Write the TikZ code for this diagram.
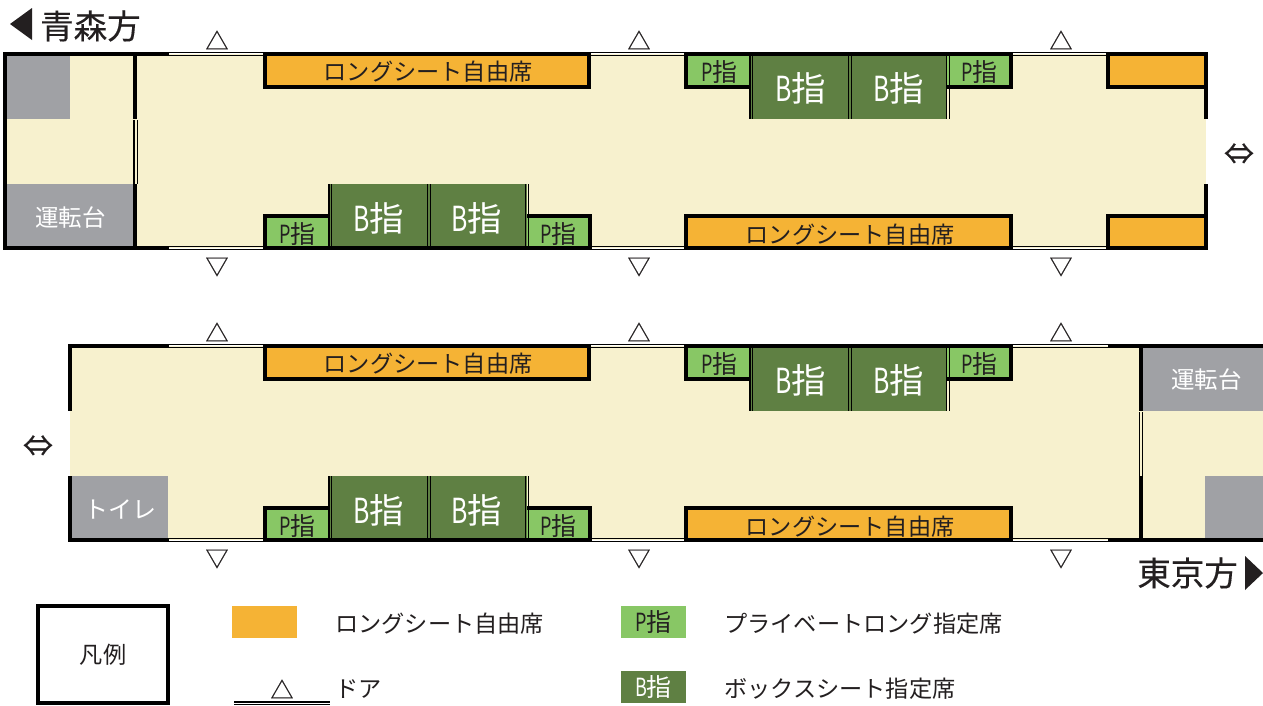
\documentclass[tikz,border=0pt]{standalone}
\usepackage{fontspec}
\setmainfont{Noto Sans CJK JP}
\newfontfamily\narrowjp[FakeStretch=0.72]{Noto Sans CJK JP}
\newfontfamily\heavyjp[FakeBold=0.6]{Noto Sans CJK JP}
\newfontfamily\semijp[FakeBold=0.35]{Noto Sans CJK JP}
\definecolor{cream}{HTML}{F7F1CE}
\definecolor{orangeseat}{HTML}{F5B335}
\definecolor{pgreen}{HTML}{88C765}
\definecolor{bgreen}{HTML}{5F8043}
\definecolor{cabgrey}{HTML}{A0A1A5}
\definecolor{ink}{HTML}{231F20}
\newcommand{\jpP}{{\narrowjp P}指}
\newcommand{\jpB}{{\narrowjp B}指}
\tikzset{
  x=1pt,y=-1pt,
  wall/.style={line width=4pt,black},
  thin double/.style={line width=1.1pt,black},
  seattext/.style={inner sep=0pt,text=ink,font=\fontsize{23.2}{25}\selectfont},
  ptext/.style={inner sep=0pt,text=ink,font=\fontsize{25}{27}\selectfont},
  btext/.style={inner sep=0pt,text=white,font=\fontsize{34.5}{36}\selectfont},
  cabtext/.style={inner sep=0pt,text=white,font=\fontsize{23.5}{25}\selectfont},
  mark text/.style={inner sep=0pt,text=ink,font=\heavyjp\fontsize{23}{25}\selectfont},
  swap text/.style={inner sep=0pt,text=ink,font=\heavyjp\fontsize{30}{32}\selectfont},
  dirtext/.style={inner sep=0pt,text=ink,font=\semijp\fontsize{33.5}{35}\selectfont},
  legendtext/.style={inner sep=0pt,anchor=west,text=ink,font=\fontsize{23.2}{25}\selectfont},
}
% door: two thin lines at height #1, from #2 to #3
\newcommand{\doorpair}[3]{%
  \draw[thin double] (#2,#1-1.7) -- (#3,#1-1.7);
  \draw[thin double] (#2,#1+1.6) -- (#3,#1+1.6);
}
% everything the two cars share, drawn for the first car's heights
\newcommand{\carbody}[1]{%
  % top seats
  \fill[orangeseat] (265,54) rectangle (589,87);
  \fill[pgreen] (686,54) rectangle (751,87);
  \fill[bgreen] (751,54) rectangle (947,119);
  \fill[pgreen] (947,54) rectangle (1011,87);
  % bottom seats
  \fill[pgreen] (265,216) rectangle (330,248);
  \fill[bgreen] (330,184) rectangle (527,248);
  \fill[pgreen] (527,216) rectangle (590,248);
  \fill[orangeseat] (686,216) rectangle (1011,248);
  % seat outlines
  \draw[wall] (265,54) -- (265,87) -- (589,87) -- (589,54);
  \draw[wall] (686,54) -- (686,87) -- (751,87);
  \draw[wall] (947,87) -- (1011,87) -- (1011,54);
  \draw[wall] (265,248) -- (265,216) -- (329,216);
  \draw[wall] (527,216) -- (590,216) -- (590,248);
  \draw[wall] (686,248) -- (686,216) -- (1011,216) -- (1011,248);
  % seat partitions
  \foreach \px in {750,848.5,946.5}{%
    \draw[line width=1.6pt] (\px,56) -- (\px,119);
    \draw[line width=1pt] (\px+2.6,56) -- (\px+2.6,119);}
  \foreach \px in {329,427.5,525.5}{%
    \draw[line width=1.6pt] (\px,184) -- (\px,247);
    \draw[line width=1pt] (\px+2.6,184) -- (\px+2.6,247);}
  % long walls
  \draw[wall] (263,54) -- (591,54) (684,54) -- (1013,54);
  \draw[wall] (263,248) -- (592,248) (684,248) -- (1013,248);
  % doors
  \doorpair{54}{169}{265}\doorpair{54}{590}{686}\doorpair{54}{1012}{1108}
  \doorpair{248}{169}{265}\doorpair{248}{590}{686}\doorpair{248}{1012}{1108}
  % labels
  \node[seattext] (#1long1) at (428,72) {ロングシート自由席};
  \node[seattext] (#1long2) at (850,235) {ロングシート自由席};
  \node[ptext] (#1p1) at (719.5,71.5) {\jpP};
  \node[ptext] (#1p2) at (979.5,71.5) {\jpP};
  \node[ptext] (#1p3) at (297.5,233.5) {\jpP};
  \node[ptext] (#1p4) at (558.5,233.5) {\jpP};
  \node[btext] (#1b1) at (800.5,88) {\jpB};
  \node[btext] (#1b2) at (898.5,88) {\jpB};
  \node[btext] (#1b3) at (378.5,218) {\jpB};
  \node[btext] (#1b4) at (476.5,218) {\jpB};
  \node[mark text] (#1u1) at (217,40) {△};
  \node[mark text] (#1u2) at (639,40) {△};
  \node[mark text] (#1u3) at (1061,40) {△};
  \node[mark text] (#1d1) at (217,267) {▽};
  \node[mark text] (#1d2) at (639,267) {▽};
  \node[mark text] (#1d3) at (1061,267) {▽};
}
\begin{document}
\begin{tikzpicture}
\useasboundingbox (0,0) rectangle (1263,705);
\fill[white] (0,0) rectangle (1263,705);
% ---- first car
\fill[cream] (5,54) rectangle (1206,248);
\fill[cabgrey] (7,56) rectangle (70,119);
\fill[cabgrey] (7,184) rectangle (133,247);
\fill[orangeseat] (1108,54) rectangle (1206,87);
\fill[orangeseat] (1108,216) rectangle (1206,248);
\draw[wall] (5,52) -- (5,250);
\draw[wall] (3,54) -- (169,54) (3,248) -- (169,248);
\draw[wall] (135,54) -- (135,119) (135,184) -- (135,248);
\draw[line width=1.1pt] (134,120) -- (134,184);
\draw[line width=1.1pt] (137.3,120) -- (137.3,184);
\draw[wall] (1206,52) -- (1206,119) (1206,184) -- (1206,250);
\draw[wall] (1108,54) -- (1108,87) -- (1206,87);
\draw[wall] (1108,248) -- (1108,216) -- (1206,216);
\draw[wall] (1106,54) -- (1208,54) (1106,248) -- (1208,248);
\carbody{a}
\node[cabtext] (cabA) at (70.5,218) {運転台};
\node[swap text] (swapA) at (1239,154) {⇔};
\fill[ink] (32,8) -- (32,40) -- (10,24) -- cycle;
\node[dirtext,anchor=west] (aomori) at (40,26) {青森方};
% ---- second car
\begin{scope}[yshift=-292pt]
\fill[cream] (70,54) rectangle (1263,248);
\fill[cabgrey] (72,184) rectangle (168,246);
\fill[cabgrey] (1143,56) rectangle (1263,119);
\fill[cabgrey] (1205,184) rectangle (1263,246);
\draw[wall] (70,52) -- (70,119) (70,184) -- (70,250);
\draw[wall] (72,54) -- (169,54) (68,248) -- (169,248);
\draw[wall] (1108,54) -- (1263,54) (1108,248) -- (1263,248);
\draw[wall] (1141,54) -- (1141,119) (1141,184) -- (1141,248);
\draw[line width=1.1pt] (1139.6,120) -- (1139.6,184);
\draw[line width=1.1pt] (1142.8,120) -- (1142.8,184);
\carbody{b}
\node[cabtext] (cabB) at (1206.5,88) {運転台};
\node[cabtext,font=\fontsize{24}{26}\selectfont] (toilet) at (120,217) {トイレ};
\node[swap text] (swapB) at (38,154) {⇔};
\end{scope}
% ---- direction label
\node[dirtext,anchor=east] (tokyo) at (1238,573) {東京方};
\fill[ink] (1245,556) -- (1245,590) -- (1263,573) -- cycle;
% ---- legend
\node[draw=black,line width=4pt,minimum width=130pt,minimum height=97pt,inner sep=0pt,text=ink,font=\fontsize{23.2}{25}\selectfont] (legend) at (103,654.5) {凡例};
\fill[orangeseat] (232,606) rectangle (297,638);
\node[legendtext] (lg1) at (335,624) {ロングシート自由席};
\node[mark text] (lgdoor) at (282,689) {△};
\draw[line width=1.1pt] (234,702) -- (330,702) (234,704.6) -- (330,704.6);
\node[legendtext] (lg2) at (335,689) {ドア};
\node[fill=pgreen,minimum width=65pt,minimum height=32pt,inner sep=0pt,text=ink,font=\fontsize{25}{27}\selectfont] (lgP) at (653.5,622) {\jpP};
\node[legendtext] (lg3) at (724,624) {プライベートロング指定席};
\node[fill=bgreen,minimum width=65pt,minimum height=32pt,inner sep=0pt,text=white,font=\fontsize{25}{27}\selectfont] (lgB) at (653.5,687) {\jpB};
\node[legendtext] (lg4) at (724,689) {ボックスシート指定席};
\end{tikzpicture}
\end{document}
